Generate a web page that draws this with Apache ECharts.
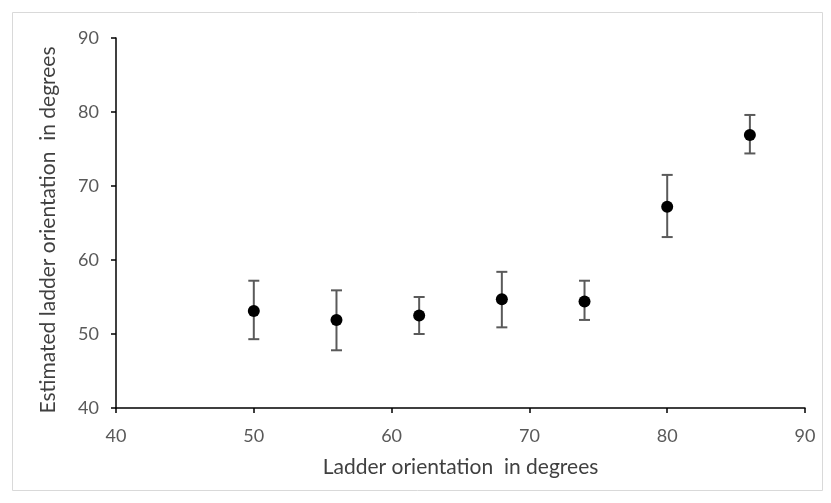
<!DOCTYPE html>
<html><head><meta charset="utf-8">
<script src="https://cdn.jsdelivr.net/npm/echarts@6/dist/echarts.min.js"></script>
<style>html,body{margin:0;padding:0;background:#fff}#c{width:831px;height:503px}</style>
</head><body><div id="c"></div>
<script>
const xValues = [50, 56, 62, 68, 74, 80, 86];
const yMeans = [53.1, 51.9, 52.5, 54.7, 54.4, 67.2, 76.9];
const yLow = [49.3, 47.8, 50.0, 50.9, 51.9, 63.1, 74.4];
const yHigh = [57.2, 55.9, 55.0, 58.4, 57.2, 71.5, 79.6];
const xTitle = 'Ladder orientation  in degrees';
const yTitle = 'Estimated ladder orientation  in degrees';

const font = 'Lato';
const chart = echarts.init(document.getElementById('c'), null, {renderer: 'canvas'});
const pts = xValues.map((x, i) => [x, yMeans[i]]);
const errs = xValues.map((x, i) => [x, yLow[i], yHigh[i]]);
chart.setOption({
  animation: false,
  backgroundColor: '#fff',
  graphic: [{type: 'rect', shape: {x: 12.5, y: 12.5, width: 810, height: 478}, style: {fill: 'none', stroke: '#d9d9d9', lineWidth: 1}, z: -1}],
  grid: {left: 116, right: 26, top: 38, bottom: 95},
  xAxis: {
    type: 'value', min: 40, max: 90, interval: 10,
    name: xTitle, nameLocation: 'middle', nameGap: 49,
    nameTextStyle: {color: '#404040', fontSize: 21, fontFamily: font},
    axisLine: {lineStyle: {color: '#000', width: 1.5}},
    axisTick: {show: true, length: 5, lineStyle: {color: '#000', width: 1.5}},
    axisLabel: {color: '#595959', fontSize: 18, fontFamily: font, margin: 19},
    splitLine: {show: false}
  },
  yAxis: {
    type: 'value', min: 40, max: 90, interval: 10,
    name: yTitle, nameLocation: 'middle', nameGap: 57,
    nameTextStyle: {color: '#404040', fontSize: 21, fontFamily: font, padding: [0, 14, 0, 0]},
    axisLine: {show: true, lineStyle: {color: '#000', width: 1.5}},
    axisTick: {show: true, length: 5, lineStyle: {color: '#000', width: 1.5}},
    axisLabel: {color: '#595959', fontSize: 18, fontFamily: font, margin: 17},
    splitLine: {show: false}
  },
  series: [
    {
      type: 'custom', data: errs, z: 2,
      renderItem: function (params, api) {
        const x = api.value(0);
        const lo = api.coord([x, api.value(1)]);
        const hi = api.coord([x, api.value(2)]);
        const w = 5.5;
        const st = {stroke: '#5a5a5a', lineWidth: 2};
        return {type: 'group', children: [
          {type: 'line', shape: {x1: lo[0], y1: lo[1], x2: hi[0], y2: hi[1]}, style: st},
          {type: 'line', shape: {x1: lo[0] - w, y1: lo[1], x2: lo[0] + w, y2: lo[1]}, style: st},
          {type: 'line', shape: {x1: hi[0] - w, y1: hi[1], x2: hi[0] + w, y2: hi[1]}, style: st}
        ]};
      }
    },
    {
      type: 'scatter', data: pts, z: 3, symbol: 'circle', symbolSize: 12,
      itemStyle: {color: '#000', opacity: 1}
    }
  ]
});
</script></body></html>
